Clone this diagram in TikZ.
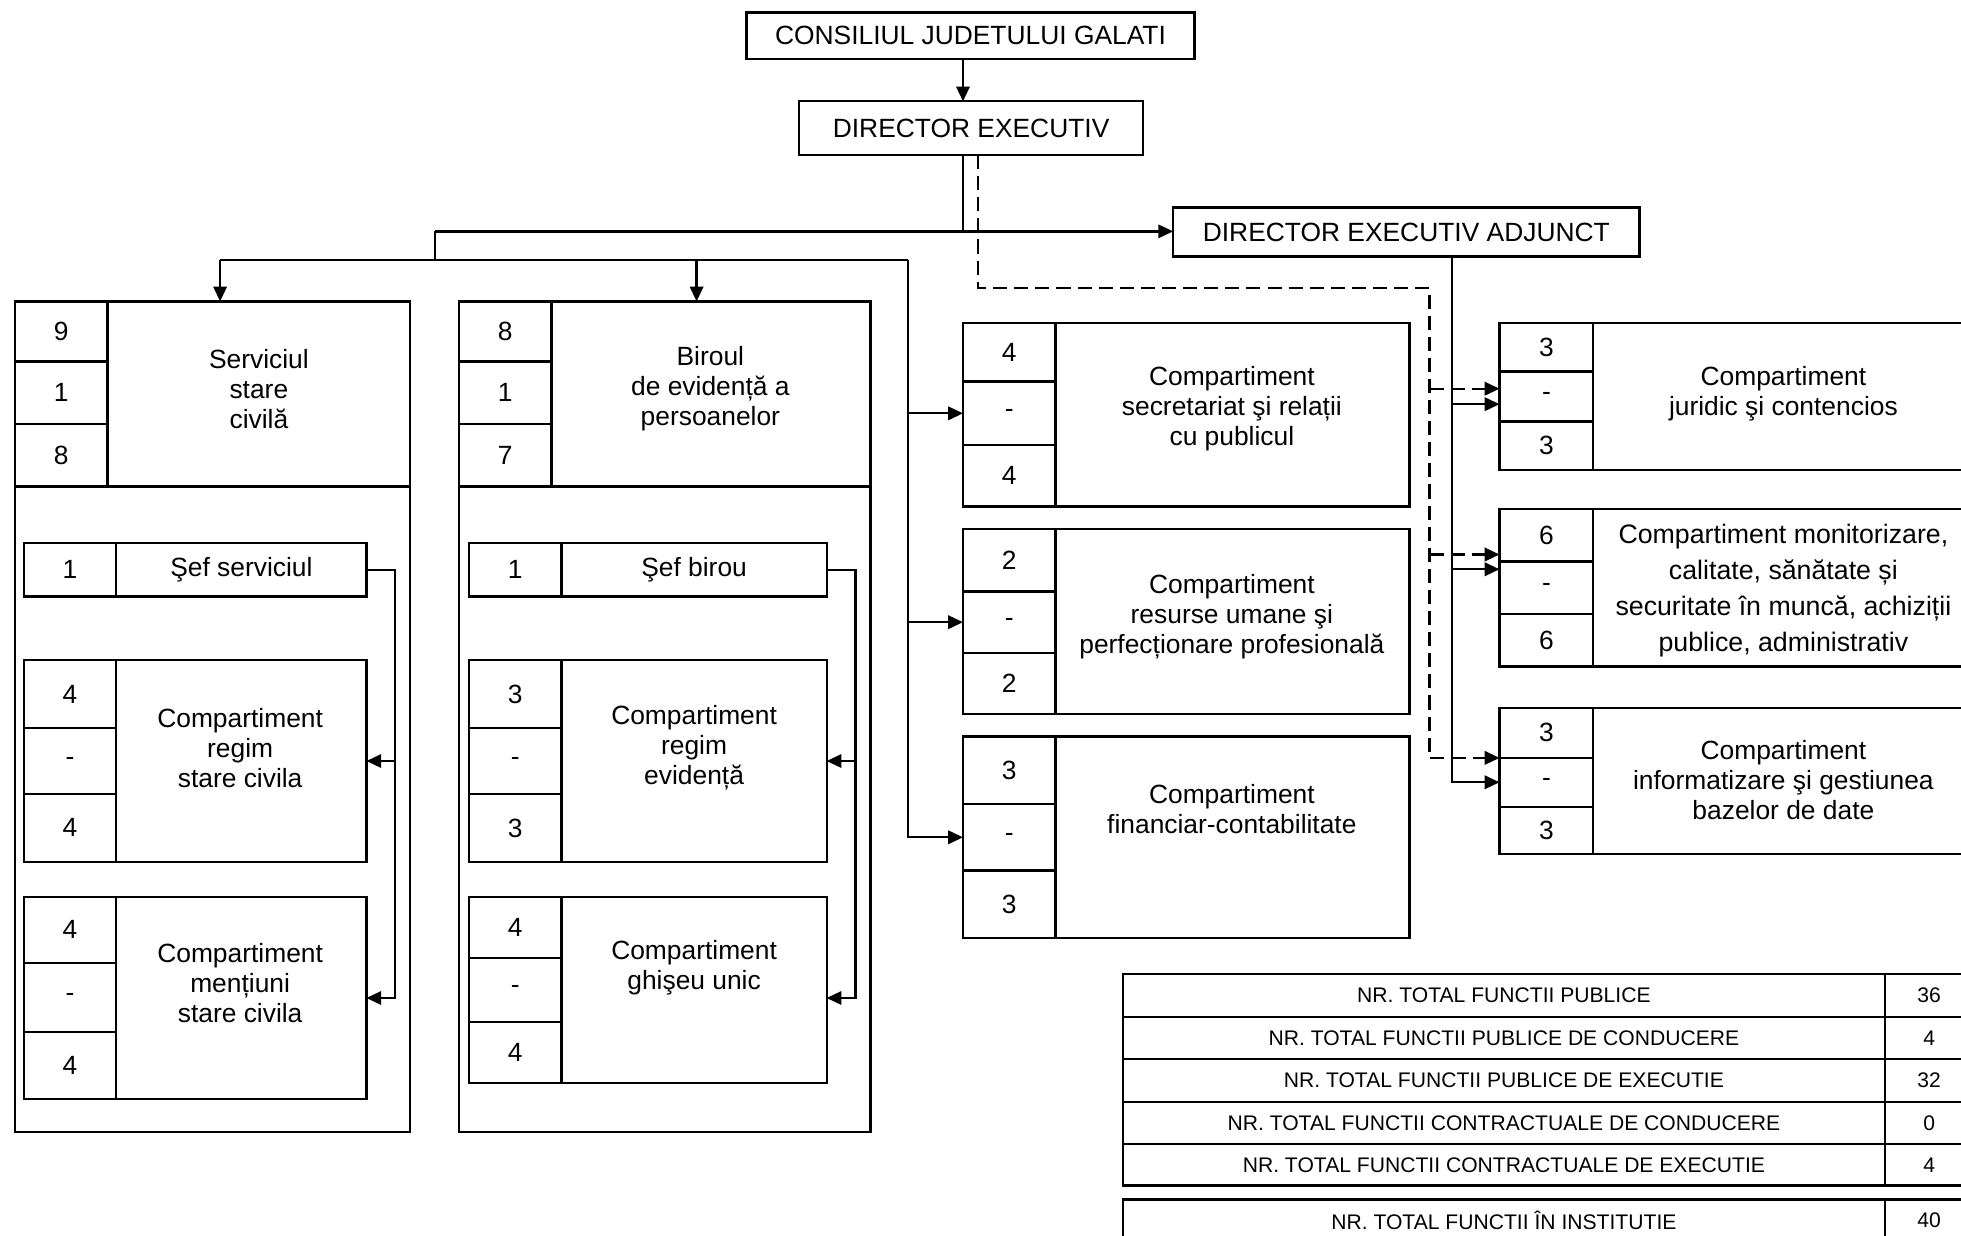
\documentclass[tikz,border=0pt]{standalone}
\usepackage{fontspec}
\setmainfont{Liberation Sans}
\usetikzlibrary{arrows.meta}
\newcommand\fsm{\fontsize{7.5}{8.5}\selectfont}
\newcommand\fsw{\fontsize{7.6}{10.2}\selectfont}
\newcommand\fst{\fontsize{6}{7}\selectfont}
\newcommand\cellbox[7][]{%
  \node[cellst,#1,minimum width={(#5-#3)*0.0125cm},minimum height={(#6-#4)*0.0125cm},anchor=north west] (#2) at (#3,#4) {#7};}
\tikzset{
  cellst/.style={draw,line width=0.65pt,inner sep=0pt,outer sep=0pt,font=\fsm},
  tabst/.style={font=\fst},
  lbl/.style={inner sep=0pt,align=center,font=\fsm},
  ln/.style={line width=0.65pt},
  arr/.style={line width=0.65pt,-{Triangle[length=4.2pt,width=3.8pt]}},
  dsh/.style={line width=0.65pt,dash pattern=on 4pt off 2pt},
  darr/.style={dsh,-{Triangle[length=4.2pt,width=3.8pt]}},
}
\begin{document}
\begin{tikzpicture}[x=0.0125cm,y=-0.0125cm]
\useasboundingbox (0,0) rectangle (1568,988);
\clip (0,0) rectangle (1568,988);
\fill[white] (0,0) rectangle (1568,988);

% top
\cellbox{cons}{597}{10}{955}{47}{CONSILIUL JUDETULUI GALATI}
\cellbox{de}{639}{81}{914}{124}{DIRECTOR EXECUTIV}
\cellbox{dea}{938}{166}{1311}{205}{DIRECTOR EXECUTIV ADJUNCT}

% Serviciul stare civila
\cellbox{svc}{12}{241}{328}{905}{}
\cellbox{svcT}{86}{241}{328}{389}{}
\cellbox{sn1}{12}{241}{86}{289}{9}
\cellbox{sn2}{12}{289}{86}{339}{1}
\cellbox{sn3}{12}{339}{86}{389}{8}
\node[lbl] (svcL) at (207,311) {Serviciul\\stare\\civilă};
\cellbox{sef1a}{19}{434}{93}{477}{1}
\cellbox{sef1b}{93}{434}{293}{477}{Şef serviciul}
\cellbox{rsc1}{19}{528}{93}{582}{4}
\cellbox{rsc2}{19}{582}{93}{635}{-}
\cellbox{rsc3}{19}{635}{93}{689}{4}
\cellbox{rscT}{93}{528}{293}{689}{}
\node[lbl] (rscL) at (192,598) {Compartiment\\regim\\stare civila};
\cellbox{mn1}{19}{717}{93}{770}{4}
\cellbox{mn2}{19}{770}{93}{825}{-}
\cellbox{mn3}{19}{825}{93}{879}{4}
\cellbox{mnT}{93}{717}{293}{879}{}
\node[lbl] (mnL) at (192,786) {Compartiment\\mențiuni\\stare civila};

% Biroul
\cellbox{bir}{367}{241}{696}{905}{}
\cellbox{birT}{441}{241}{696}{389}{}
\cellbox{bn1}{367}{241}{441}{289}{8}
\cellbox{bn2}{367}{289}{441}{339}{1}
\cellbox{bn3}{367}{339}{441}{389}{7}
\node[lbl] (birL) at (568,311) {Biroul\\de evidență a\\persoanelor};
\cellbox{sef2a}{375}{434}{449}{477}{1}
\cellbox{sef2b}{449}{434}{661}{477}{Şef birou}
\cellbox{rev1}{375}{528}{449}{582}{3}
\cellbox{rev2}{375}{582}{449}{635}{-}
\cellbox{rev3}{375}{635}{449}{689}{3}
\cellbox{revT}{449}{528}{661}{689}{}
\node[lbl] (revL) at (555,598) {Compartiment\\regim\\evidență};
\cellbox{gh1}{375}{717}{449}{766}{4}
\cellbox{gh2}{375}{766}{449}{817}{-}
\cellbox{gh3}{375}{817}{449}{866}{4}
\cellbox{ghT}{449}{717}{661}{866}{}
\node[lbl] (ghL) at (555,774) {Compartiment\\ghişeu unic};

% middle column
\cellbox{m1a}{770}{258}{844}{305}{4}
\cellbox{m1b}{770}{305}{844}{356}{-}
\cellbox{m1c}{770}{356}{844}{405}{4}
\cellbox{m1T}{844}{258}{1127}{405}{}
\node[lbl] (m1L) at (985,327) {Compartiment\\secretariat şi relații\\cu publicul};
\cellbox{m2a}{770}{423}{844}{473}{2}
\cellbox{m2b}{770}{473}{844}{522}{-}
\cellbox{m2c}{770}{522}{844}{571}{2}
\cellbox{m2T}{844}{423}{1127}{571}{}
\node[lbl] (m2L) at (985,493) {Compartiment\\resurse umane şi\\perfecționare profesională};
\cellbox{m3a}{770}{589}{844}{643}{3}
\cellbox{m3b}{770}{643}{844}{696}{-}
\cellbox{m3c}{770}{696}{844}{750}{3}
\cellbox{m3T}{844}{589}{1127}{750}{}
\node[lbl] (m3L) at (985,647) {Compartiment\\financiar-contabilitate};

% right column
\cellbox{r1a}{1199}{258}{1274}{297}{3}
\cellbox{r1b}{1199}{297}{1274}{337}{-}
\cellbox{r1c}{1199}{337}{1274}{376}{3}
\cellbox{r1T}{1274}{258}{1578}{376}{}
\node[lbl] (r1L) at (1426,315) {Compartiment\\juridic şi contencios};
\cellbox{r2a}{1199}{407}{1274}{449}{6}
\cellbox{r2b}{1199}{449}{1274}{491}{-}
\cellbox{r2c}{1199}{491}{1274}{533}{6}
\cellbox{r2T}{1274}{407}{1578}{533}{}
\node[lbl,font=\fsw] (r2L) at (1426,472) {Compartiment monitorizare,\\calitate, sănătate și\\securitate în muncă, achiziții\\publice, administrativ};
\cellbox{r3a}{1199}{566}{1274}{606}{3}
\cellbox{r3b}{1199}{606}{1274}{645}{-}
\cellbox{r3c}{1199}{645}{1274}{683}{3}
\cellbox{r3T}{1274}{566}{1578}{683}{}
\node[lbl] (r3L) at (1426,624) {Compartiment\\informatizare şi gestiunea\\bazelor de date};

% table
\cellbox[tabst]{t1a}{898}{779}{1507}{813}{NR. TOTAL FUNCTII PUBLICE}
\cellbox[tabst]{t1b}{1507}{779}{1578}{813}{36}
\cellbox[tabst]{t2a}{898}{813}{1507}{847}{NR. TOTAL FUNCTII PUBLICE DE CONDUCERE}
\cellbox[tabst]{t2b}{1507}{813}{1578}{847}{4}
\cellbox[tabst]{t3a}{898}{847}{1507}{881}{NR. TOTAL FUNCTII PUBLICE DE EXECUTIE}
\cellbox[tabst]{t3b}{1507}{847}{1578}{881}{32}
\cellbox[tabst]{t4a}{898}{881}{1507}{915}{NR. TOTAL FUNCTII CONTRACTUALE DE CONDUCERE}
\cellbox[tabst]{t4b}{1507}{881}{1578}{915}{0}
\cellbox[tabst]{t5a}{898}{915}{1507}{948}{NR. TOTAL FUNCTII CONTRACTUALE DE EXECUTIE}
\cellbox[tabst]{t5b}{1507}{915}{1578}{948}{4}
\cellbox[tabst]{t6a}{898}{959}{1507}{993}{NR. TOTAL FUNCTII ÎN INSTITUTIE}
\cellbox[tabst]{t6b}{1507}{959}{1578}{993}{40}

% connectors
\coordinate (jA) at (770,185);
\coordinate (jB) at (348,185);
\coordinate (jC) at (348,208);
\coordinate (jL) at (176,208);
\coordinate (jM) at (557,208);
\coordinate (jR) at (726,208);
\coordinate (dA) at (782,230);
\coordinate (dB) at (1143,230);
\coordinate (sX) at (1161,0);
\coordinate (vL) at (316,0);
\coordinate (vB) at (684,0);

\draw[arr] (cons.south -| jA) -- (de.north -| jA);
\draw[ln] (de.south -| jA) -- (jA);
\draw[arr] (jB) -- (dea.west |- jA);
\draw[ln] (jB) -- (jC);
\draw[ln] (jL) -- (jR);
\draw[arr] (jL) -- (jL |- svc.north);
\draw[arr] (jM) -- (jM |- bir.north);
\draw[arr] (jR) |- (m3b.west);
\draw[arr] (jR |- m1b.west) -- (m1b.west);
\draw[arr] (jR |- m2b.west) -- (m2b.west);

% dashed from director executiv
\draw[darr] (de.south -| dA) -- (dA) -- (dB) |- (r3a.south west);
\draw[darr] ([yshift=2.2pt]r1b.west -| dB) -- ([yshift=2.2pt]r1b.west);
\draw[darr] ([yshift=2pt]r2a.south west -| dB) -- ([yshift=2pt]r2a.south west);

% solid from director executiv adjunct
\draw[arr] (dea.south -| sX) |- (r3b.west);
\draw[arr] ([yshift=-2.2pt]r1b.west -| sX) -- ([yshift=-2.2pt]r1b.west);
\draw[arr] ([yshift=-2.2pt]r2a.south west -| sX) -- ([yshift=-2.2pt]r2a.south west);

% inner connectors
\draw[arr] (sef1b.east) -| (vL |- mnT.east) -- (mnT.east);
\draw[arr] (vL |- rscT.east) -- (rscT.east);
\draw[arr] (sef2b.east) -| (vB |- mnT.east) -- (ghT.east |- mnT.east);
\draw[arr] (vB |- revT.east) -- (revT.east);
\end{tikzpicture}
\end{document}
